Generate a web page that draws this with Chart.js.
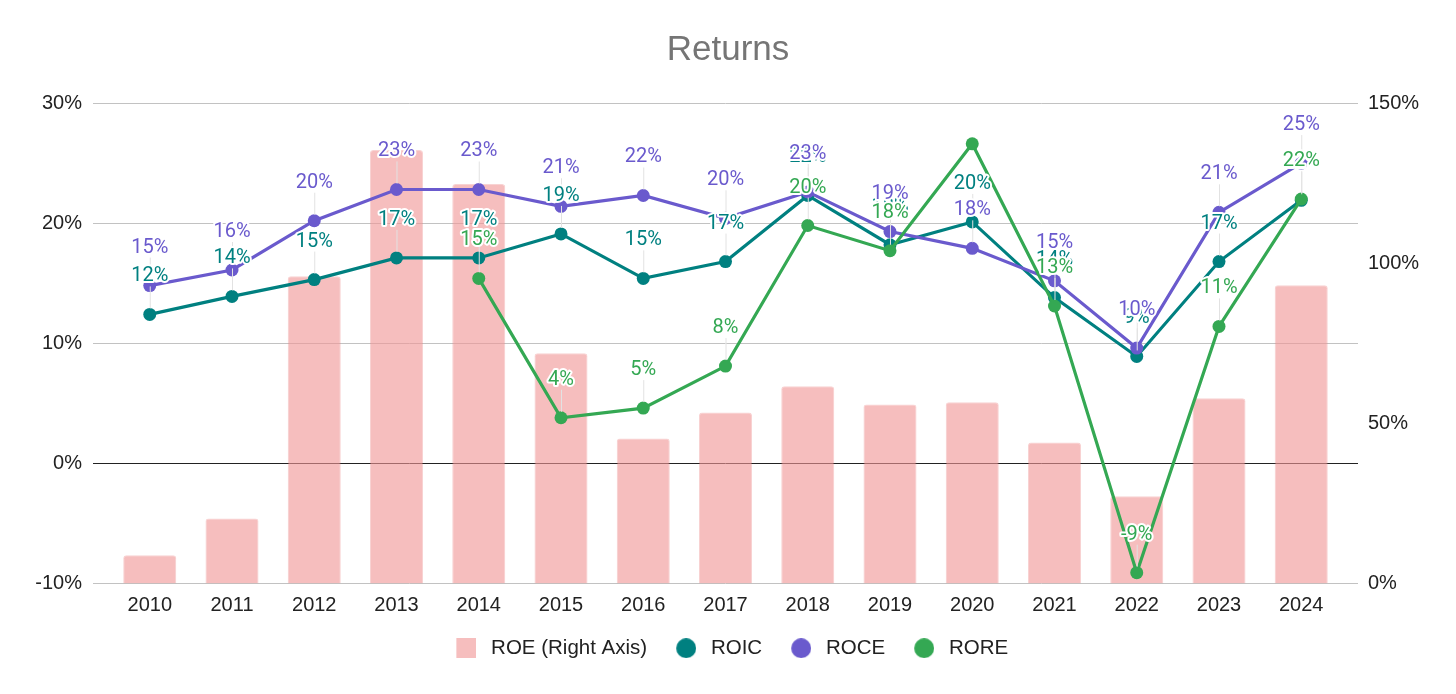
<!DOCTYPE html>
<html>
<head>
<meta charset="utf-8">
<script src="https://cdn.jsdelivr.net/npm/chart.js@4.4.1/dist/chart.umd.min.js"></script>
<style>
  html, body { margin: 0; padding: 0; background: #fff; }
  #wrap { width: 1456px; height: 694px; }
</style>
</head>
<body>
<div id="wrap"><canvas id="returnsChart"></canvas></div>
<script>
// values (percent)
const years = ['2010', '2011', '2012', '2013', '2014', '2015', '2016', '2017', '2018', '2019', '2020', '2021', '2022', '2023', '2024'];
const roe  = [8.8, 20.3, 95.9, 135.3, 124.7, 71.9, 45.3, 53.4, 61.6, 55.9, 56.6, 44.0, 27.2, 57.8, 93.1];
const roic = [12.4, 13.9, 15.3, 17.1, 17.1, 19.1, 15.4, 16.8, 22.3, 18.2, 20.1, 13.8, 8.9, 16.8, 21.9];
const roce = [14.8, 16.1, 20.2, 22.8, 22.8, 21.4, 22.3, 20.4, 22.6, 19.3, 17.9, 15.2, 9.6, 20.9, 25.0];
const rore = [null, null, null, null, 15.4, 3.8, 4.6, 8.1, 19.8, 17.7, 26.6, 13.1, -9.1, 11.4, 22.0];
const leftTicks  = [-10, 0, 10, 20, 30];
const rightTicks = [0, 50, 100, 150];

const colors = {
    roe: 'rgba(240, 150, 150, 0.62)',
    roic: '#008080',
    roce: '#6a5acd',
    rore: '#34a853',
};

Chart.defaults.font.family = '"Liberation Sans", Arial, sans-serif';
Chart.defaults.color = '#222';

function points(values) {
    return values.map((v, i) => ({ x: i, y: v }));
}

// legend markers, nudged right inside a wider box so the gaps match
function legendIcon(color, square) {
    const c = document.createElement('canvas');
    c.width = 24;
    c.height = 20;
    const g = c.getContext('2d');
    g.fillStyle = color;
    if (square) {
        g.fillRect(4, 0, 20, 20);
    } else {
        g.beginPath();
        g.arc(14, 10, 10, 0, Math.PI * 2);
        g.fill();
    }
    return c;
}
const icons = [
    legendIcon('rgba(246, 190, 190, 1)', true),
    legendIcon(colors.roic, false),
    legendIcon(colors.roce, false),
    legendIcon(colors.rore, false),
];

const pointLabels = {
    id: 'pointLabels',
    afterDatasetsDraw(chart) {
        const { ctx, chartArea } = chart;
        const items = [];
        chart.data.datasets.forEach((ds, di) => {
            if (ds.type !== 'line') return;
            chart.getDatasetMeta(di).data.forEach((pt, i) => {
                const v = ds.data[i].y;
                if (v === null) return;
                const y = pt.y - 38;
                if (y - 10 < chartArea.top) return;
                items.push({ x: pt.x, y: y, py: pt.y, text: Math.round(v) + '%', color: ds.borderColor });
            });
        });
        ctx.save();
        ctx.strokeStyle = '#e2e2e2';
        ctx.lineWidth = 1;
        items.forEach((it) => {
            ctx.beginPath();
            ctx.moveTo(it.x + 0.5, it.y + 10);
            ctx.lineTo(it.x + 0.5, it.py - 6);
            ctx.stroke();
        });
        ctx.font = '20px Roboto';
        ctx.textAlign = 'center';
        ctx.textBaseline = 'middle';
        ctx.lineJoin = 'round';
        items.forEach((it) => {
            ctx.strokeStyle = '#fff';
            ctx.lineWidth = 4;
            ctx.strokeText(it.text, it.x, it.y);
            ctx.fillStyle = it.color;
            ctx.fillText(it.text, it.x, it.y);
        });
        ctx.restore();
    },
};

const lineStyle = {
    type: 'line',
    yAxisID: 'y',
    borderWidth: 3.2,
    pointRadius: 6.5,
    pointHoverRadius: 6.5,
    pointBorderWidth: 0,
    tension: 0,
};

new Chart(document.getElementById('returnsChart'), {
    type: 'bar',
    data: {
        datasets: [
            {
                type: 'bar',
                label: 'ROE (Right Axis)',
                data: points(roe),
                yAxisID: 'y1',
                backgroundColor: colors.roe,
                borderColor: 'rgba(235, 130, 130, 0.35)',
                borderWidth: 1,
                borderRadius: 3,
                borderSkipped: 'bottom',
                categoryPercentage: 0.645,
                barPercentage: 1,
                order: 4,
            },
            { ...lineStyle, label: 'ROIC', data: points(roic), borderColor: colors.roic, backgroundColor: colors.roic, order: 3 },
            { ...lineStyle, label: 'ROCE', data: points(roce), borderColor: colors.roce, backgroundColor: colors.roce, order: 2 },
            { ...lineStyle, label: 'RORE', data: points(rore), borderColor: colors.rore, backgroundColor: colors.rore, order: 1 },
        ],
    },
    options: {
        responsive: true,
        maintainAspectRatio: false,
        animation: false,
        layout: { padding: { top: 0, bottom: 25.5, left: 0, right: 0 } },
        plugins: {
            title: {
                display: true,
                text: 'Returns',
                color: '#757575',
                font: { size: 35, weight: 'normal' },
                padding: { top: 29, bottom: 32 },
            },
            legend: {
                position: 'bottom',
                labels: {
                    usePointStyle: true,
                    pointStyleWidth: 33,
                    padding: 20.5,
                    color: '#222',
                    font: { size: 20.5 },
                    sort: (a, b) => a.datasetIndex - b.datasetIndex,
                    generateLabels(chart) {
                        const items = Chart.defaults.plugins.legend.labels.generateLabels(chart);
                        items.forEach((it) => { it.pointStyle = icons[it.datasetIndex]; });
                        return items;
                    },
                },
            },
            tooltip: { enabled: false },
        },
        scales: {
            x: {
                type: 'linear',
                offset: false,
                min: -0.69,
                max: 14.69,
                afterFit: (s) => { s.height = 34; },
                grid: { display: false, drawTicks: false },
                border: { display: false },
                ticks: {
                    stepSize: 1,
                    includeBounds: false,
                    autoSkip: false,
                    maxRotation: 0,
                    padding: 10,
                    font: { size: 20 },
                    color: '#222',
                    callback: (v) => years[v] ?? '',
                },
            },
            y: {
                position: 'left',
                min: leftTicks[0],
                max: leftTicks[leftTicks.length - 1],
                afterFit: (s) => { s.width = 93; },
                afterBuildTicks: (s) => { s.ticks = leftTicks.map((v) => ({ value: v })); },
                grid: {
                    drawTicks: false,
                    color: (c) => (c.tick && c.tick.value === 0 ? '#222' : '#c2c2c2'),
                },
                border: { display: false },
                ticks: { padding: 11, font: { size: 20 }, color: '#222', callback: (v) => v + '%' },
            },
            y1: {
                position: 'right',
                min: rightTicks[0],
                max: rightTicks[rightTicks.length - 1],
                afterFit: (s) => { s.width = 98; },
                afterBuildTicks: (s) => { s.ticks = rightTicks.map((v) => ({ value: v })); },
                grid: { display: false, drawTicks: false },
                border: { display: false },
                ticks: { padding: 10, font: { size: 20 }, color: '#222', callback: (v) => v + '%' },
            },
        },
    },
    plugins: [pointLabels],
});
</script>
</body>
</html>
